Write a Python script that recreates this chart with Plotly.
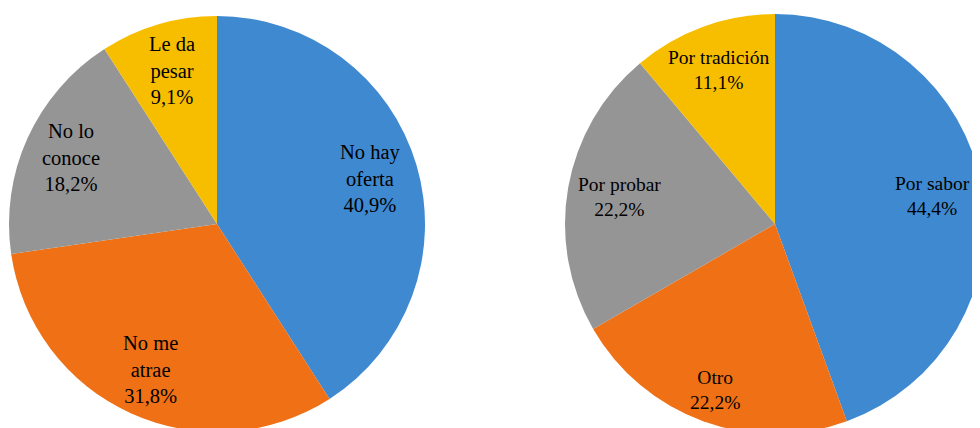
import math
import plotly.graph_objects as go

left_labels = ["No hay<br>oferta", "No me<br>atrae", "No lo<br>conoce", "Le da<br>pesar"]
left_values = [40.9, 31.8, 18.2, 9.1]
right_labels = ["Por sabor", "Otro", "Por probar", "Por tradición"]
right_values = [44.4, 22.2, 22.2, 11.1]
colors = ["#3F89D0", "#EF7015", "#959595", "#F7BE00"]

W, H = 980, 428

# pie placement in pixels (paper), converted to domains; lr = label distance as fraction of radius
pies = [
    dict(labels=left_labels, values=left_values, cx=209, cy=216, r=208,
         lr=[0.77, 0.77, 0.77, 0.77], fs=20.5),
    dict(labels=right_labels, values=right_values, cx=767, cy=216, r=210,
         lr=[0.76, 0.84, 0.75, 0.78], fs=19.5),
]

fig = go.Figure()
annotations = []
for p in pies:
    cx, cy, r = p["cx"], p["cy"], p["r"]
    font = dict(family="Liberation Serif, Times New Roman, serif", size=p["fs"], color="black")
    fig.add_trace(go.Pie(
        labels=p["labels"], values=p["values"], sort=False, direction="clockwise", rotation=0,
        marker=dict(colors=colors, line=dict(width=0)),
        textinfo="none", showlegend=False, hoverinfo="label+percent",
        domain=dict(x=[(cx - r) / W, (cx + r) / W], y=[1 - (cy + r) / H, 1 - (cy - r) / H]),
    ))
    total = sum(p["values"])
    cum = 0
    for lab, v, lr in zip(p["labels"], p["values"], p["lr"]):
        ang = math.radians((cum + v / 2) / total * 360)
        cum += v
        dx = math.sin(ang) * r * lr
        dy = -math.cos(ang) * r * lr
        pct = f"{v:.1f}".replace(".", ",") + "%"
        annotations.append(dict(
            x=(cx + dx) / W, y=1 - (cy + dy) / H, xref="paper", yref="paper",
            text=f"{lab}<br>{pct}", showarrow=False, font=font, align="center",
            xanchor="center", yanchor="middle",
        ))

fig.update_layout(
    width=W, height=H, margin=dict(l=0, r=0, t=0, b=0),
    paper_bgcolor="white", plot_bgcolor="white",
    annotations=annotations,
)
fig.write_html("out.html")
